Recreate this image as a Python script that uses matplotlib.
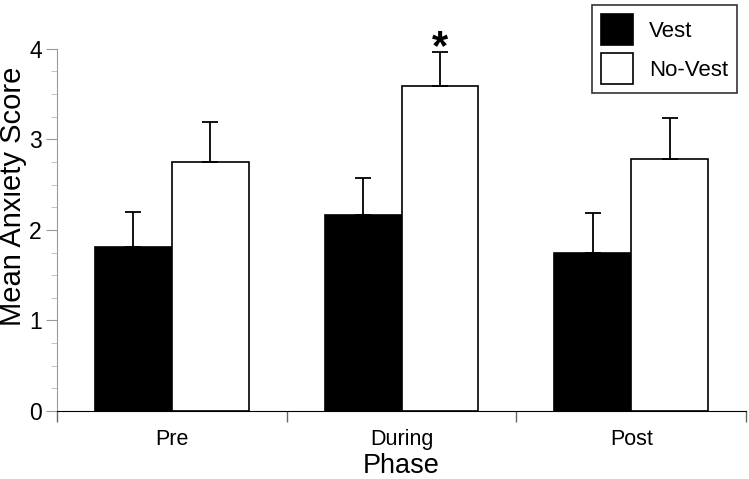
import numpy as np
import matplotlib
matplotlib.use("Agg")
import matplotlib.pyplot as plt
from matplotlib.ticker import MultipleLocator

plt.rcParams['font.family'] = ['Liberation Sans', 'DejaVu Sans']

phases = ["Pre", "During", "Post"]
vest = [1.81, 2.16, 1.75]
vest_err = [0.39, 0.41, 0.44]
novest = [2.75, 3.59, 2.78]
novest_err = [0.44, 0.37, 0.46]

fig = plt.figure(figsize=(7.49, 4.79), dpi=100)
ax = fig.add_axes([0.0761, 0.142, 0.92, 0.756])

x = np.arange(len(phases))
w = 0.335

ax.bar(x - w / 2, vest, w, color="black", edgecolor="black", linewidth=1.2, label="Vest")
ax.bar(x + w / 2, novest, w, color="white", edgecolor="black", linewidth=1.2, label="No-Vest")

# upper error bars only
ax.errorbar(x - w / 2, vest, yerr=[np.zeros(3), vest_err], fmt="none",
            ecolor="black", elinewidth=1.3, capsize=5.5, capthick=1.3)
ax.errorbar(x + w / 2, novest, yerr=[np.zeros(3), novest_err], fmt="none",
            ecolor="black", elinewidth=1.3, capsize=5.5, capthick=1.3)

# significance star
ax.text(x[1] + w / 2, novest[1] + novest_err[1] - 0.17, "*", ha="center", va="bottom",
        fontsize=30, fontweight="bold", clip_on=False)

ax.set_xlim(-0.5, 2.5)
ax.set_ylim(0, 4)

ax.spines["top"].set_visible(False)
ax.spines["right"].set_visible(False)
ax.spines["left"].set_color("#999999")
ax.spines["bottom"].set_color("black")

ax.set_xticks(x)
ax.set_xticklabels(phases, fontsize=15.5)
ax.tick_params(axis="x", length=0, pad=13)
ax.set_xticks([-0.5, 0.5, 1.5, 2.5], minor=True)
ax.tick_params(axis="x", which="minor", length=8, color="#666666", width=1)

ax.yaxis.set_major_locator(MultipleLocator(1))
ax.yaxis.set_minor_locator(MultipleLocator(0.25))
ax.tick_params(axis="y", which="major", length=8, color="#999999", labelsize=16.5, pad=3)
ax.tick_params(axis="y", which="minor", length=4, color="#bbbbbb")

ax.set_xlabel("Phase", fontsize=19.5, labelpad=2)
ax.set_ylabel("Mean Anxiety Score", fontsize=21, va="center", ha="center")
ax.yaxis.set_label_coords(-0.0635, 0.594)

leg = ax.legend(loc="upper right", bbox_to_anchor=(0.984, 0.99), bbox_transform=fig.transFigure,
                fontsize=16, frameon=True, fancybox=False, edgecolor="black",
                handlelength=1.45, handleheight=1.8, handletextpad=0.7,
                labelspacing=0.35, borderpad=0.4, borderaxespad=0)
leg.get_frame().set_linewidth(1.2)

fig.savefig("out.png", dpi=100)
